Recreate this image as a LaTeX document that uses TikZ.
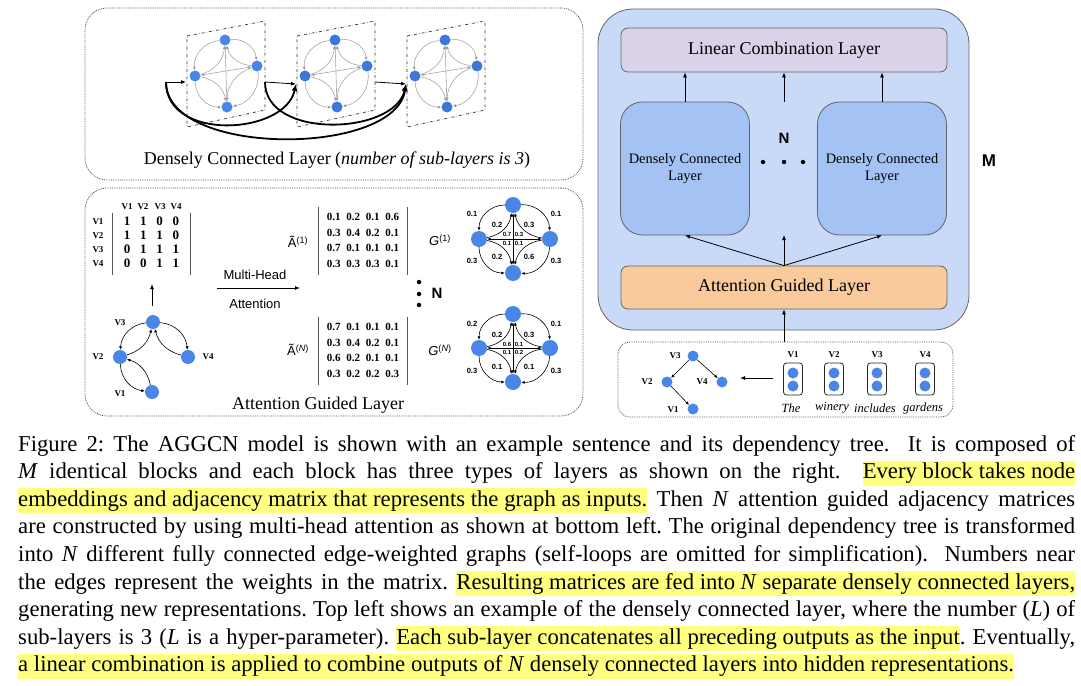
\documentclass[tikz,border=0pt]{standalone}
\usepackage{fontspec}
\setmainfont{Liberation Serif}
\setsansfont{Liberation Sans}
\usepackage{tikz}
\usetikzlibrary{arrows.meta}
\definecolor{nodeblue}{RGB}{74,134,232}
\definecolor{deepblue}{RGB}{60,120,216}
\definecolor{blockblue}{RGB}{201,218,248}
\definecolor{denseblue}{RGB}{164,194,244}
\definecolor{linpurple}{RGB}{217,210,233}
\definecolor{attorange}{RGB}{249,203,156}
\definecolor{hlyellow}{RGB}{255,255,128}
\definecolor{subgray}{RGB}{165,165,165}
\definecolor{boxgray}{RGB}{100,100,100}
\newcommand{\hlt}[1]{{\setlength{\fboxsep}{0pt}\colorbox{hlyellow}{\rule[-7pt]{0pt}{25pt}#1}}}
\newcommand{\capline}[1]{\hbox to \linewidth{#1}}

\begin{document}
\begin{tikzpicture}[x=1pt,y=-1pt,>={Latex[length=5pt,width=4pt]},
  panel/.style={draw=black!70,densely dotted,line width=0.8pt,rounded corners=22pt,inner sep=0pt},
  vx/.style={circle,fill=nodeblue,inner sep=0pt,minimum size=#1},
  vx/.default=16pt,
  sublayer/.style={draw=black!80,dash dot,line width=0.7pt},
  subedge/.style={draw=subgray,line width=0.6pt,>={Latex[length=3.5pt,width=3pt]}},
  gedge/.style={line width=0.6pt,>={Latex[length=3.5pt,width=3pt]}},
  skip/.style={->,line width=1.8pt,>={Latex[length=7pt,width=6pt]}},
  vlab/.style={inner sep=0pt,font=\fontsize{9}{10}\selectfont\bfseries},
  wlab/.style={inner sep=0pt,font=\sffamily\bfseries\fontsize{7.5}{8}\selectfont},
  clab/.style={inner sep=0pt,font=\sffamily\bfseries\fontsize{6}{6}\selectfont},
  adjmat/.style={inner xsep=6.4pt,inner ysep=3pt,font=\fontsize{13}{14}\selectfont\bfseries\setlength{\tabcolsep}{4.9pt}},
  numat/.style={inner xsep=4.9pt,inner ysep=3pt,font=\fontsize{11}{15.5}\selectfont\bfseries\setlength{\tabcolsep}{2.9pt}},
  mbar/.style={draw=black!65,line width=1.3pt},
  layer/.style={draw=boxgray,line width=0.8pt,rounded corners=7pt,minimum width=326pt,font=\fontsize{18}{20}\selectfont},
  dense/.style={draw=boxgray,line width=0.8pt,rounded corners=22pt,fill=denseblue,minimum width=129pt,minimum height=133pt,align=center,font=\fontsize{14.4}{17}\selectfont},
  sftext/.style={inner sep=0pt,font=\sffamily\fontsize{13}{15}\selectfont},
  bigsf/.style={inner sep=0pt,font=\sffamily\bfseries\fontsize{15}{17}\selectfont},
  smalldot/.style={circle,fill=black,inner sep=0pt,minimum size=4.5pt},
  wordbox/.style={draw=black!85,line width=0.8pt,rounded corners=3pt,minimum width=19pt,minimum height=32pt,inner sep=0pt}
]
\useasboundingbox (0,0) rectangle (1081,685);

% densely connected layer, top left
\node[panel,minimum width=498pt,minimum height=172pt] (p1) at (334,94) {};
\node[inner sep=0pt,font=\fontsize{18}{20}\selectfont] (p1title) at (337,160) {Densely Connected Layer (\textit{number of sub-layers is 3})};
\foreach \k in {0,1,2} {
  \draw[sublayer] (187+110*\k,36) -- (265+110*\k,21) -- (265+110*\k,110) -- (187+110*\k,127) -- cycle;
}
\foreach \k/\cx/\col in {1/226/nodeblue,2/336/deepblue,3/446/deepblue} {
  \node[vx=11pt,fill=\col] (st\k) at (\cx-1,40) {};
  \node[vx=11pt,fill=\col] (sr\k) at (\cx+31,66) {};
  \node[vx=11pt,fill=\col] (sl\k) at (\cx-31,76) {};
  \node[vx=11pt,fill=\col] (sb\k) at (\cx+1,107) {};
  \draw[subedge,->] (st\k) edge[bend right=45] (sl\k) edge[bend left=45] (sr\k);
  \draw[subedge,->] (sl\k) edge[bend right=45] (sb\k) edge[bend right=35] (st\k) edge[bend left=35] (sb\k);
  \draw[subedge,->] (sr\k) edge[bend left=45] (sb\k) edge[bend left=35] (st\k) edge[bend right=35] (sb\k);
  \draw[subedge,<->] (sl\k) -- (sr\k);
  \draw[subedge,<->] (st\k) -- (sb\k);
}
\coordinate (src) at (166,82);
\coordinate (in1) at (186,82);
\coordinate (out1) at (265,82);
\coordinate (in2) at (296,84);
\coordinate (out2) at (375,82);
\coordinate (in3) at (406,84);
\draw[->,line width=0.8pt] (src) -- (in1);
\draw[->,line width=0.8pt] (out1) -- (in2);
\draw[->,line width=0.8pt] (out2) -- (in3);
\draw[skip] (src) .. controls (166,142) and (285,135) .. (in2);
\draw[skip] (src) .. controls (166,157) and (395,157) .. (in3);
\draw[skip] (out1) .. controls (265,140) and (395,135) .. (in3);

% attention guided layer, bottom left
\node[panel,minimum width=498pt,minimum height=228pt] (p2) at (334,302) {};
\node[inner sep=0pt,font=\fontsize{18}{20}\selectfont] (p2title) at (318,405) {Attention Guided Layer};
\node[vlab] (c1) at (127,207) {V1};
\node[vlab] (c2) at (143,207) {V2};
\node[vlab] (c3) at (160,207) {V3};
\node[vlab] (c4) at (176,207) {V4};
\node[vlab] (r1) at (98,222) {V1};
\node[vlab] (r2) at (98,236) {V2};
\node[vlab] (r3) at (98,250) {V3};
\node[vlab] (r4) at (98,264) {V4};
\node[adjmat] (adj) at (151.5,244) {\begin{tabular}{cccc}1&1&0&0\\1&1&1&0\\0&1&1&1\\0&0&1&1\end{tabular}};
\draw[mbar] (adj.north west) -- (adj.south west);
\draw[mbar] (adj.north east) -- (adj.south east);
\coordinate (upa) at (152,306);
\coordinate (upb) at (152,284);
\draw[->,line width=0.8pt] (upa) -- (upb);
\node[vx=14pt] (tv3) at (153,322) {};
\node[vx=14pt] (tv2) at (120,357) {};
\node[vx=14pt] (tv4) at (188,357) {};
\node[vx=14pt] (tv1) at (152,392) {};
\node[vlab] (lv3) at (120,323) {V3};
\node[vlab] (lv2) at (98,357) {V2};
\node[vlab] (lv4) at (208,357) {V4};
\node[vlab] (lv1) at (120,394) {V1};
\draw[gedge,->] (tv3) edge[bend right=40] (tv2) edge[bend left=40] (tv4);
\draw[gedge,->] (tv2) edge[bend right=30] (tv3) edge[bend right=40] (tv1);
\draw[gedge,->] (tv4) edge[bend left=30] (tv3);
\draw[gedge,->] (tv1) edge[bend right=30] (tv2);

\node[sftext] (mhtop) at (255,275) {Multi-Head};
\node[sftext] (mhbot) at (255,304) {Attention};
\coordinate (mha) at (217,288);
\coordinate (mhb) at (300,288);
\draw[->,line width=0.8pt] (mha) -- (mhb);

\node[sftext] (a1) at (298,242) {Ã\textsuperscript{(1)}};
\node[numat] (m1) at (363,241) {\begin{tabular}{cccc}0.1&0.2&0.1&0.6\\0.3&0.4&0.2&0.1\\0.7&0.1&0.1&0.1\\0.3&0.3&0.3&0.1\end{tabular}};
\draw[mbar] (m1.north west) -- (m1.south west);
\draw[mbar] (m1.north east) -- (m1.south east);
\node[sftext] (aN) at (298,350) {Ã\textsuperscript{(\textit{N})}};
\node[numat] (mN) at (363,351) {\begin{tabular}{cccc}0.7&0.1&0.1&0.1\\0.3&0.4&0.2&0.1\\0.6&0.2&0.1&0.1\\0.3&0.2&0.2&0.3\end{tabular}};
\draw[mbar] (mN.north west) -- (mN.south west);
\draw[mbar] (mN.north east) -- (mN.south east);
\node[smalldot] (vd1) at (419,282) {};
\node[smalldot] (vd2) at (419,294) {};
\node[smalldot] (vd3) at (419,305) {};
\node[bigsf] (vn) at (437,293) {N};

\node[sftext] (g1) at (440,240) {\textit{G}\textsuperscript{(1)}};
\node[sftext] (gN) at (440,350) {\textit{G}\textsuperscript{(\textit{N})}};
\foreach \k/\cy in {1/239,N/348} {
  \node[vx] (gt\k) at (513,\cy-34) {};
  \node[vx] (gb\k) at (513,\cy+34) {};
  \node[vx] (gl\k) at (479,\cy) {};
  \node[vx] (gr\k) at (550,\cy) {};
  \draw[gedge,->] (gt\k) edge[bend right=45] (gl\k) edge[bend left=45] (gr\k);
  \draw[gedge,->] (gl\k) edge[bend right=45] (gb\k) edge[bend right=35] (gt\k) edge[bend left=35] (gb\k);
  \draw[gedge,->] (gr\k) edge[bend left=45] (gb\k) edge[bend left=35] (gt\k) edge[bend right=35] (gb\k);
  \draw[gedge,<->] (gl\k) -- (gr\k);
  \draw[gedge,<->] (gt\k) -- (gb\k);
}
\node[wlab] (w1a) at (472,214) {0.1};
\node[wlab] (w1b) at (556,214) {0.1};
\node[wlab] (w1c) at (472,261) {0.3};
\node[wlab] (w1d) at (556,261) {0.3};
\node[wlab] (w1e) at (497,225) {0.2};
\node[wlab] (w1f) at (529,225) {0.3};
\node[wlab] (w1g) at (497,257) {0.2};
\node[wlab] (w1h) at (529,257) {0.6};
\node[clab] (w1i) at (507,234) {0.7};
\node[clab] (w1j) at (519,234) {0.3};
\node[clab] (w1k) at (507,243) {0.1};
\node[clab] (w1l) at (519,243) {0.1};
\node[wlab] (wNa) at (472,324) {0.2};
\node[wlab] (wNb) at (556,324) {0.1};
\node[wlab] (wNc) at (472,371) {0.3};
\node[wlab] (wNd) at (556,371) {0.3};
\node[wlab] (wNe) at (497,335) {0.2};
\node[wlab] (wNf) at (529,335) {0.3};
\node[wlab] (wNg) at (497,367) {0.1};
\node[wlab] (wNh) at (529,367) {0.1};
\node[clab] (wNi) at (507,344) {0.6};
\node[clab] (wNj) at (519,344) {0.1};
\node[clab] (wNk) at (507,352) {0.1};
\node[clab] (wNl) at (519,352) {0.2};

% one block, right
\node[draw=boxgray,fill=blockblue,line width=0.8pt,rounded corners=35pt,minimum width=371pt,minimum height=321pt] (blk) at (783.5,169.5) {};
\node[layer,fill=linpurple,minimum height=44pt] (lin) at (784,50) {Linear Combination Layer};
\node[dense] (dc1) at (685,168.5) {Densely Connected\\Layer};
\node[dense] (dc2) at (882,168.5) {Densely Connected\\Layer};
\node[layer,fill=attorange,minimum height=43pt] (att) at (784,287.5) {Attention Guided Layer};
\coordinate (midtop) at (784,102);
\coordinate (midbot) at (784,235);
\draw[->,line width=0.8pt] (dc1.north) -- (dc1.north |- lin.south);
\draw[->,line width=0.8pt] (midtop) -- (midtop |- lin.south);
\draw[->,line width=0.8pt] (dc2.north) -- (dc2.north |- lin.south);
\draw[->,line width=0.8pt] (att.north) -- (dc1.south);
\draw[->,line width=0.8pt] (att.north) -- (dc2.south);
\draw[->,line width=0.8pt] (att.north) -- (midbot);
\node[smalldot] (hd1) at (763,162) {};
\node[smalldot] (hd2) at (784,162) {};
\node[smalldot] (hd3) at (803,162) {};
\node[bigsf] (hn) at (784,138) {N};
\node[bigsf,font=\sffamily\bfseries\fontsize{17}{19}\selectfont] (hm) at (989,161) {M};

% input sentence, bottom right
\node[panel,rounded corners=12pt,minimum width=335pt,minimum height=75pt] (inp) at (785.5,379.5) {};
\draw[->,line width=0.8pt] (att.south |- inp.north) -- (att.south);
\node[vx=11pt] (bt3) at (693,356) {};
\node[vx=11pt] (bt2) at (667,382) {};
\node[vx=11pt] (bt4) at (722,382) {};
\node[vx=11pt] (bt1) at (693,409) {};
\node[vlab] (bl3) at (675,356) {V3};
\node[vlab] (bl2) at (647,382) {V2};
\node[vlab] (bl4) at (702,382) {V4};
\node[vlab] (bl1) at (673,410) {V1};
\draw[gedge,->] (bt3) -- (bt2);
\draw[gedge,->] (bt3) -- (bt4);
\draw[gedge,->] (bt2) -- (bt1);
\coordinate (wfrom) at (773,378);
\coordinate (wto) at (740,378);
\draw[->,line width=0.8pt] (wfrom) -- (wto);
\foreach \i/\x/\w in {1/793/The,2/834/winery,3/877/includes,4/925/gardens} {
  \node[wordbox] (wb\i) at (\x,379) {};
  \node[vx=11pt] (eu\i) at (\x,373) {};
  \node[vx=11pt] (ed\i) at (\x,386) {};
  \node[vlab] (wl\i) at (\x,355) {V\i};
  \node[inner sep=0pt,font=\fontsize{12.5}{15}\selectfont\itshape] (wd\i) at (\x-2,408) {\w};
}

% caption
\node[anchor=base west,inner sep=0pt,text width=1057pt,font=\fontsize{22.7}{27.6}\selectfont\frenchspacing] (cap) at (18,451) {%
\spaceskip=0.25em plus 0.2em minus 0.11em
\capline{Figure 2: The AGGCN model is shown with an example sentence and its dependency tree.\ \ It is composed of}
\capline{\textit{M} identical blocks and each block has three types of layers as shown on the right.\ \ \hlt{Every block takes node}}
\capline{\hlt{embeddings and adjacency matrix that represents the graph as inputs.} Then \textit{N} attention guided adjacency matrices}
\capline{are constructed by using multi-head attention as shown at bottom left. The original dependency tree is transformed}
\capline{into \textit{N} different fully connected edge-weighted graphs (self-loops are omitted for simplification).\ \ Numbers near}
\capline{the edges represent the weights in the matrix. \hlt{Resulting matrices are fed into \textit{N} separate densely connected layers,}}
\capline{generating new representations. Top left shows an example of the densely connected layer, where the number (\textit{L}) of}
\capline{sub-layers is 3 (\textit{L} is a hyper-parameter). \hlt{Each sub-layer concatenates all preceding outputs as the input}. Eventually,}
\hbox{\hlt{a linear combination is applied to combine outputs of \textit{N} densely connected layers into hidden representations.}}};
\end{tikzpicture}
\end{document}
